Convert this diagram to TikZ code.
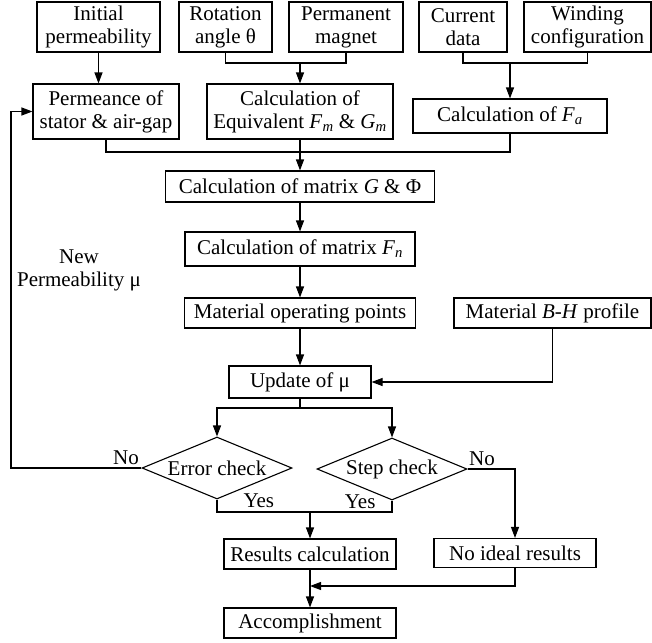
\documentclass[tikz,border=0pt]{standalone}
\usepackage{fontspec}
\setmainfont{Liberation Serif}
\usetikzlibrary{arrows.meta,shapes.geometric}
\newcommand{\isub}[2]{\textit{#1}\textsubscript{\textit{#2}}}
\begin{document}
\begin{tikzpicture}[x=1pt, y=-1pt, line width=1.1pt,
    font=\fontsize{21}{23}\selectfont,
    box/.style={draw, align=center, inner sep=0pt},
    chk/.style={draw, diamond, aspect=2.4, inner sep=0pt,
      minimum width=150, minimum height=62},
    lbl/.style={inner sep=0pt},
    arr/.style={-{Triangle[length=11pt,width=8pt]}}]
  \useasboundingbox (0,0) rectangle (652,642);
  % inputs
  \node[box, minimum width=123, minimum height=50] (init) at (98.5,27) {Initial\\permeability};
  \node[box, minimum width=93, minimum height=50] (rot) at (225.5,27) {Rotation\\angle θ};
  \node[box, minimum width=114, minimum height=50] (pm) at (346,27) {Permanent\\magnet};
  \node[box, minimum width=88, minimum height=50] (cur) at (463,27) {Current\\data};
  \node[box, minimum width=127, minimum height=50] (wind) at (587.5,27) {Winding\\configuration};
  % second row
  \node[box, minimum width=146, minimum height=55] (pmc) at (106,111.5) {Permeance of\\stator \& air-gap};
  \node[box, minimum width=186, minimum height=55] (calcfm) at (300,111.5) {Calculation of\\Equivalent \isub{F}{m} \& \isub{G}{m}};
  \node[box, minimum width=194, minimum height=34] (calcfa) at (510,116) {Calculation of \isub{F}{a}};
  % main chain
  \node[box, minimum width=269, minimum height=31] (matg) at (300,186.5) {Calculation of matrix \textit{G} \& Φ};
  \node[box, minimum width=230, minimum height=34] (matfn) at (300,249) {Calculation of matrix \isub{F}{n}};
  \node[box, minimum width=231, minimum height=30] (matop) at (300,313) {Material operating points};
  \node[box, minimum width=197, minimum height=30] (matbh) at (552.5,313) {Material \textit{B}-\textit{H} profile};
  \node[box, minimum width=142, minimum height=32] (upd) at (300,382) {Update of μ};
  \node[chk] (err) at (217,468) {Error check};
  \node[chk] (stp) at (392,469) {Step check};
  \node[box, minimum width=172, minimum height=30] (res) at (310,554) {Results calculation};
  \node[box, minimum width=162, minimum height=29] (noid) at (515,553) {No ideal results};
  \node[box, minimum width=172, minimum height=30] (acc) at (310,623) {Accomplishment};
  \node[lbl, align=center] (newmu) at (79,270) {New\\Permeability μ};
  % junctions
  \coordinate (j1) at (300,63);
  \coordinate (j2) at (510,63);
  \coordinate (j3) at (300,152);
  \coordinate (j4) at (300,408);
  \coordinate (j5) at (310,512);
  \coordinate (j6) at (310,586);
  \coordinate (fb) at (11,300);
  % connectors
  \draw[arr] (init.south) -- (init.south |- pmc.north);
  \draw (rot.south) |- (j1) -| (pm.south);
  \draw[arr] (j1) -- (calcfm.north);
  \draw (cur.south) |- (j2) -| (wind.south);
  \draw[arr] (j2) -- (calcfa.north);
  \draw (pmc.south) |- (j3) -| (calcfa.south);
  \draw (calcfm.south) -- (j3);
  \draw[arr] (j3) -- (matg.north);
  \draw[arr] (matg) -- (matfn);
  \draw[arr] (matfn) -- (matop);
  \draw[arr] (matop) -- (upd);
  \draw[arr] (matbh.south) |- (upd.east);
  \draw (upd.south) -- (j4);
  \draw[arr] (j4) -| (err.north);
  \draw[arr] (j4) -| (stp.north);
  \draw[arr] (err.west) -| (fb) |- (pmc.west);
  \draw[arr] (stp.east) -| (noid.north);
  \draw (err.south) |- (j5) -| (stp.south);
  \draw[arr] (j5) -- (res.north);
  \draw[arr] (res) -- (acc);
  \draw[arr] (noid.south) |- (j6);
  % branch labels
  \node[lbl, anchor=base east] (noerr) at ([xshift=-2pt,yshift=4pt]err.west) {No};
  \node[lbl, anchor=base west] (nostp) at ([xshift=1pt,yshift=4pt]stp.east) {No};
  \node[lbl, anchor=base west] (yeserr) at ([xshift=26pt,yshift=-8pt]err.south) {Yes};
  \node[lbl, anchor=base east] (yesstp) at ([xshift=-16pt,yshift=-8pt]stp.south) {Yes};
\end{tikzpicture}
\end{document}
